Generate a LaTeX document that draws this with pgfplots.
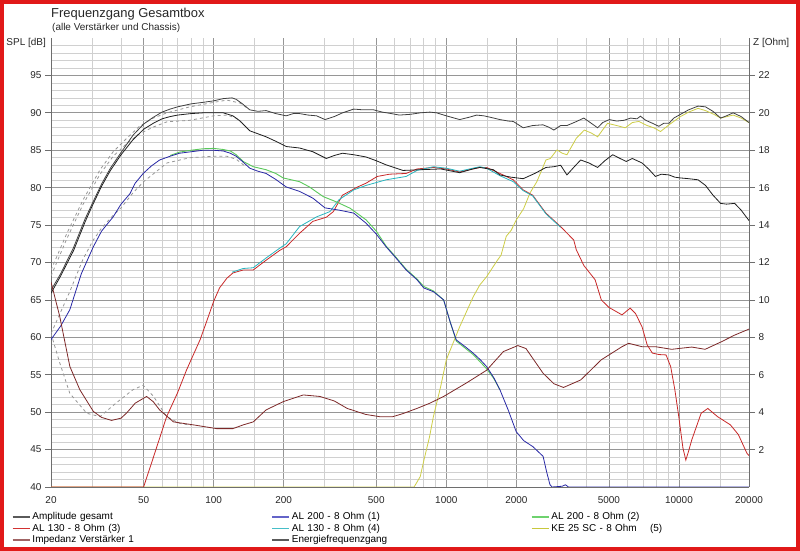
\documentclass[border=0pt]{standalone}
\usepackage{pgfplots}
\pgfplotsset{compat=1.18}
\usepackage{fontspec}
\setmainfont{Liberation Sans}
\definecolor{gmaj}{RGB}{150,150,150}
\definecolor{gmin}{RGB}{208,208,208}
\definecolor{cblk}{RGB}{30,30,30}
\definecolor{cblu}{RGB}{40,40,165}
\definecolor{cgrn}{RGB}{90,200,90}
\definecolor{cred}{RGB}{200,40,40}
\definecolor{ccya}{RGB}{40,180,190}
\definecolor{cyel}{RGB}{205,205,70}
\definecolor{cimp}{RGB}{125,40,40}
\definecolor{cdash}{RGB}{150,150,150}
\definecolor{frame}{RGB}{225,25,25}
\definecolor{axl}{RGB}{110,110,110}
\definecolor{lgblk}{RGB}{90,90,90}
\definecolor{lgblu}{RGB}{100,100,200}
\definecolor{lggrn}{RGB}{110,210,110}
\definecolor{lgred}{RGB}{210,50,50}
\definecolor{lgcya}{RGB}{70,190,200}
\definecolor{lgyel}{RGB}{200,200,60}
\definecolor{lgimp}{RGB}{160,100,100}
\pgfplotsset{
  every axis/.append style={
    scale only axis, width=698bp, height=449bp,
    at={(51bp,64bp)}, anchor=south west,
    xmode=log, xmin=20, xmax=20000,
    tick label style={font=\fontsize{10}{12}\selectfont, text=black!85},
    /pgf/number format/assume math mode=true,
    axis line style={axl, line width=0.8bp},
    tick align=outside, major tick length=6bp, minor tick length=0pt,
  }
}
\begin{document}
\begin{tikzpicture}
\path[use as bounding box] (0bp,0bp) rectangle (800bp,551bp);
\begin{axis}[
  ymin=40, ymax=100,
  xtick={20,50,100,200,500,1000,2000,5000,10000,20000},
  xticklabels={20,50,100,200,500,1000,2000,5000,10000,20000},
  minor xtick={30,40,60,70,80,90,150,300,400,600,700,800,900,1500,3000,4000,6000,7000,8000,9000,15000},
  ytick={40,45,...,95},
  minor ytick={41,42,43,44,46,47,48,49,51,52,53,54,56,57,58,59,61,62,63,64,66,67,68,69,71,72,73,74,76,77,78,79,81,82,83,84,86,87,88,89,91,92,93,94,96,97,98,99},
  grid=both,
  major grid style={gmaj, line width=0.8bp},
  minor grid style={gmin, line width=0.7bp},
  xtick style={draw=none},
  ytick style={axl, line width=0.8bp},
  axis y line*=left, axis x line*=bottom,
  legend columns=3,
  legend style={at={(axis description cs:-0.0559,-0.0523)}, anchor=north west,
    draw=none, fill=none, inner sep=0pt, outer sep=0pt,
    font=\fontsize{10}{12}\selectfont, row sep=-1.5bp,
    text height=7.5bp, text depth=2.5bp, text width=237bp,
    /tikz/every odd column/.append style={column sep=0bp},
    /tikz/every even column/.append style={column sep=0bp},
    cells={anchor=west}},
  legend image post style={line width=1.5bp},
]
\addlegendimage{lgblk}\addlegendentry{Amplitude gesamt}
\addlegendimage{lgblu}\addlegendentry{AL 200 - 8 Ohm (1)}
\addlegendimage{lggrn}\addlegendentry{AL 200 - 8 Ohm (2)}
\addlegendimage{lgred}\addlegendentry{AL 130 - 8 Ohm (3)}
\addlegendimage{lgcya}\addlegendentry{AL 130 - 8 Ohm (4)}
\addlegendimage{lgyel}\addlegendentry{KE 25 SC - 8 Ohm\ \ \ \ (5)}
\addlegendimage{lgimp}\addlegendentry{Impedanz Verstärker 1}
\addlegendimage{lgblk}\addlegendentry{Energiefrequenzgang}

% dashed reference curves
\addplot[forget plot, cdash, dashed, line width=0.8bp] coordinates {
(20,69.0)(23.4,73.9)(27.5,78.4)(32.5,82.4)(37,84.8)(42,86.5)(48,88.2)(55,89.3)(63,90.0)(79,90.8)(100,91.4)(114,91.7)(130,91.3)(140,90.6)};
\addplot[forget plot, cdash, dashed, line width=0.8bp] coordinates {
(20,68.2)(23.4,73.2)(27.5,77.8)(32.5,81.8)(37,84.2)(42,85.8)(48,87.2)(55,88.1)(63,88.8)(79,89.0)(100,89.6)(114,89.7)(125,89.3)(135,88.4)};
\addplot[forget plot, cdash, dashed, line width=0.8bp] coordinates {
(20,60.5)(24,66.0)(27.5,70.5)(30.4,73.0)(33,74.6)(37,76.3)(40,77.3)(45,79.3)(50,80.8)(58,82.4)(63,83.3)(79,84.0)(100,84.2)(114,84.2)(125,83.8)(135,83.0)};

% KE 25 SC (5)
\addplot[forget plot, cyel, line width=0.8bp] coordinates {
(20,40)(727,40)(773,41.4)(800,43.5)(847,46.7)(880,49.4)(947,53.5)(1000,57.0)(1141,61.4)(1304,65.4)(1393,67.0)(1490,68.1)(1650,70.2)(1720,71.0)(1810,73.5)(1900,74.3)(2000,75.7)(2150,77.2)(2290,79.3)(2450,80.8)(2680,83.7)(2800,83.9)(2990,85.05)(3150,84.6)(3300,84.4)(3620,86.6)(3920,87.7)(4200,87.3)(4470,86.8)(4930,88.6)(5400,88.3)(5880,88.0)(6300,88.7)(6720,88.85)(7300,88.3)(7800,88.0)(8330,87.5)(9060,88.4)(10150,89.5)(11000,90.1)(12080,90.6)(13000,90.3)(14130,89.8)(15100,89.3)(17100,89.7)(18500,89.3)(20000,88.7)};

% AL 130 (3) red
\addplot[forget plot, cred, line width=0.8bp] coordinates {
(20,40)(50,40)(55,43.9)(62.8,49.4)(70,52.6)(76.4,55.6)(87.5,59.7)(93,62.0)(100,64.8)(106,66.6)(114,67.9)(121,68.6)(134,69.0)(148,69.0)(168,70.3)(192,71.6)(205,72.1)(234,73.9)(267,75.5)(305,76.05)(327,76.8)(358,79.0)(416,80.1)(452,80.6)(505,81.5)(570,81.8)(672,81.9)(748,82.5)(880,82.7)(1000,82.5)(1141,82.1)(1300,82.5)(1393,82.7)(1490,82.7)(1700,81.9)(1940,81.05)(2140,79.7)(2350,79.0)(2680,76.6)(3100,74.8)(3530,73.0)(3620,71.7)(3900,69.6)(4360,67.7)(4636,65.0)(5000,64.0)(5690,63.0)(6170,63.9)(6500,63.2)(6940,61.4)(7300,59.0)(7680,57.9)(8200,57.7)(8800,57.65)(9210,56.1)(9600,53.0)(9980,49.4)(10400,45.2)(10700,43.6)(11000,44.8)(11350,46.3)(12450,49.85)(13300,50.5)(14650,49.4)(16640,48.3)(18000,47.0)(19600,44.5)(20000,44.2)};

% AL 130 (4) cyan
\addplot[forget plot, ccya, line width=0.8bp] coordinates {
(120,68.7)(134,69.2)(148,69.3)(168,70.6)(192,71.9)(205,72.5)(234,74.8)(277,76.1)(316,76.8)(346,78.4)(400,79.7)(452,80.3)(551,81.05)(672,81.5)(748,82.3)(880,82.8)(1000,82.6)(1141,82.2)(1300,82.6)(1393,82.8)(1490,82.6)(1700,81.6)(1940,80.8)(2140,79.6)(2350,78.9)(2680,76.5)(3100,74.7)};

% AL 200 (2) green
\addplot[forget plot, cgrn, line width=0.9bp] coordinates {
(65,84.3)(71.3,84.75)(80,85.0)(90,85.2)(100,85.25)(110,85.1)(118,84.9)(125,84.4)(134,83.5)(148,82.8)(168,82.4)(185,81.9)(199,81.3)(234,80.8)(258,80.1)(296,78.8)(337,78.1)(386,77.25)(452,75.7)(500,74.2)(551,72.2)(600,70.9)(672,69.1)(748,67.8)(800,66.8)(880,66.2)(974,65.0)(1040,62.0)(1104,59.5)(1200,58.6)(1304,57.7)(1400,56.7)(1490,55.8)(1600,54.5)(1700,53.0)};

% AL 200 (1) blue
\addplot[forget plot, cblu, line width=0.8bp] coordinates {
(20,59.7)(22,61.5)(24.1,63.7)(27,68.5)(30.4,72.1)(33,74.2)(37,76.1)(40,77.8)(43.7,79.2)(46,80.6)(49.8,81.9)(54,82.9)(58.6,83.7)(65,84.2)(71.3,84.6)(80,84.8)(90,85.0)(100,85.0)(110,84.9)(118,84.6)(125,84.2)(133,83.5)(143,82.6)(155,82.2)(168,81.9)(185,81.1)(205,80.1)(234,79.5)(267,78.6)(301,77.3)(346,77.0)(400,76.6)(452,75.25)(500,73.8)(551,72.1)(600,70.8)(672,69.0)(748,67.7)(800,66.6)(880,66.1)(974,65.0)(1040,62.0)(1104,59.65)(1200,58.8)(1304,57.9)(1400,57.0)(1490,56.1)(1600,54.6)(1700,53.0)(1850,50.2)(1997,47.4)(2150,46.2)(2354,45.4)(2606,44.1)(2700,42.0)(2790,40.3)(2850,40.0)(3150,40.1)(3250,40.3)(3350,40.0)(20000,40.0)};

% Energiefrequenzgang
\addplot[forget plot, cblk, line width=0.8bp] coordinates {
(20,65.9)(22,68.2)(25,71.6)(28,75.4)(30,77.5)(33,80.2)(36,82.3)(40,84.4)(45,86.4)(50,87.8)(55,88.6)(60,89.2)(65,89.5)(70,89.7)(80,89.9)(90,90.0)(100,90.0)(110,90.0)(121,89.6)(130,88.9)(143,87.6)(155,87.2)(168,86.8)(185,86.2)(205,85.5)(234,85.3)(267,84.8)(305,83.9)(330,84.3)(358,84.6)(400,84.4)(452,84.1)(500,83.6)(551,83.05)(651,82.3)(773,82.4)(947,82.5)(1141,82.0)(1300,82.5)(1393,82.7)(1595,82.4)(1700,81.7)(1900,81.4)(2140,81.2)(2400,81.9)(2680,82.7)(2900,82.8)(3100,83.0)(3300,81.7)(3550,82.8)(3780,83.7)(4100,83.3)(4470,82.7)(4800,83.6)(5190,84.4)(5500,84.0)(5930,83.5)(6300,83.9)(6940,83.3)(7400,82.5)(7920,81.5)(8400,81.8)(9060,81.7)(9600,81.4)(10150,81.3)(11000,81.2)(12080,81.05)(13000,80.3)(14000,79.0)(15100,77.9)(16000,77.8)(17350,77.9)(18500,77.0)(20000,75.6)};

% Amplitude gesamt
\addplot[forget plot, cblk!85, line width=0.8bp] coordinates {
(20,66.3)(22,68.5)(25,72.0)(28,75.8)(30,77.8)(33,80.5)(36,82.6)(40,84.7)(45,87.0)(50,88.5)(55,89.4)(60,90.1)(65,90.5)(70,90.8)(80,91.2)(90,91.4)(100,91.6)(110,91.9)(120,92.0)(125,91.8)(133,91.2)(143,90.4)(155,90.2)(168,90.3)(185,89.9)(205,89.6)(220,89.9)(234,89.9)(255,89.7)(277,89.6)(301,89.1)(330,89.5)(358,90.0)(400,90.5)(440,90.4)(487,90.4)(530,90.1)(580,89.9)(628,89.7)(700,89.8)(773,90.0)(850,90.1)(908,90.0)(1000,89.6)(1141,89.1)(1250,89.4)(1350,89.7)(1450,89.6)(1550,89.4)(1700,89.1)(1850,88.9)(1940,88.85)(2140,88.0)(2350,88.3)(2600,88.4)(2750,88.1)(2900,87.7)(3100,88.3)(3300,88.3)(3600,88.8)(3900,89.3)(4200,88.6)(4470,88.0)(4700,88.7)(5020,89.1)(5400,88.9)(5800,89.0)(6200,89.3)(6600,89.2)(6830,89.55)(7200,89.0)(7700,88.6)(8190,88.2)(8600,88.6)(9060,88.6)(9500,89.3)(10150,89.8)(11000,90.4)(12080,90.9)(13000,90.8)(14000,90.2)(15100,89.3)(16000,89.6)(17100,90.0)(18500,89.5)(20000,88.7)};
\end{axis}

\begin{axis}[
  ymin=0, ymax=24,
  axis x line=none, axis y line*=right,
  ytick={2,4,...,22},
  ytick style={axl, line width=0.8bp},
]
% dashed impedance reference
\addplot[cdash, dashed, line width=0.8bp] coordinates {
(20,8.2)(21.8,6.64)(24.1,5.0)(28.5,3.94)(32.5,3.76)(38,4.48)(45,5.2)(49.8,5.44)(55.2,4.84)(62.8,3.76)(71.3,3.4)(80,3.3)};
% Impedanz Verstaerker 1
\addplot[cimp, line width=0.8bp] coordinates {
(20,10.96)(21.8,9.12)(24.1,6.44)(26.6,5.2)(30.4,4.04)(33,3.72)(36.4,3.56)(40,3.68)(42.3,3.96)(46,4.48)(51.5,4.84)(55,4.56)(58.6,4.12)(67.2,3.48)(81.9,3.32)(103,3.12)(121,3.12)(134,3.32)(148,3.48)(168,4.12)(199,4.56)(243,4.92)(286,4.84)(330,4.6)(375,4.2)(450,3.88)(516,3.76)(589,3.76)(650,3.92)(748,4.2)(850,4.48)(974,4.84)(1220,5.56)(1490,6.24)(1760,7.24)(2030,7.56)(2200,7.4)(2606,6.08)(2900,5.52)(3190,5.32)(3780,5.72)(4636,6.8)(5690,7.5)(6080,7.68)(6940,7.5)(7920,7.5)(9300,7.36)(11350,7.48)(12950,7.36)(15200,7.76)(17350,8.12)(20000,8.44)};
\end{axis}

\node[anchor=base west, inner sep=0pt, font=\fontsize{13}{15}\selectfont, text=black!85] at (51bp,533bp) {Frequenzgang Gesamtbox};
\node[anchor=base west, inner sep=0pt, font=\fontsize{10}{12}\selectfont, text=black!85] at (52bp,520bp) {(alle Verstärker und Chassis)};
\node[anchor=base east, inner sep=0pt, font=\fontsize{10}{12}\selectfont, text=black!85] at (46bp,505bp) {SPL [dB]};
\node[anchor=base west, inner sep=0pt, font=\fontsize{10}{12}\selectfont, text=black!85] at (753bp,505bp) {Z [Ohm]};
\draw[frame, line width=4bp] (2bp,2bp) rectangle (798bp,549bp);
\end{tikzpicture}
\end{document}
